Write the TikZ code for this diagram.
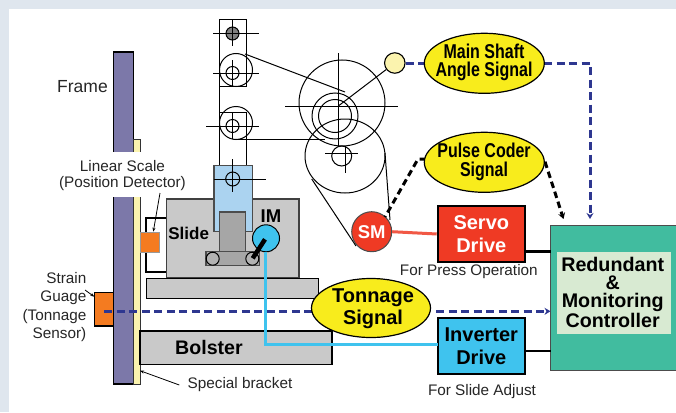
\documentclass[tikz,border=0pt]{standalone}
\usepackage{fontspec}
\setmainfont{Liberation Sans}
\newfontfamily\narrowbold[FakeStretch=0.8]{Liberation Sans Bold}
\usetikzlibrary{shapes.geometric,arrows.meta,calc}
\definecolor{bandc}{HTML}{DFE6EE}
\definecolor{framec}{HTML}{7C78A9}
\definecolor{stripc}{HTML}{FBF3AE}
\definecolor{grayc}{HTML}{C9C9C9}
\definecolor{skyc}{HTML}{ABD3F0}
\definecolor{orangec}{HTML}{F47B20}
\definecolor{navyc}{HTML}{2E3790}
\definecolor{yellowc}{HTML}{F8EC1C}
\definecolor{redc}{HTML}{EF3A24}
\definecolor{cyanc}{HTML}{3FC3EE}
\definecolor{greenc}{HTML}{41BC9F}
\definecolor{paleg}{HTML}{D8EAD2}
\tikzset{
  x=1pt,y=-1pt,
  mech/.style={draw=black,line width=1pt},
  part/.style={draw=black!75,line width=1.1pt,fill=grayc},
  sig/.style={ellipse,draw=black,line width=1.2pt,fill=yellowc,inner sep=0pt,minimum width=120pt,minimum height=60pt},
  sigtxt/.style={inner sep=0pt,align=center,font=\narrowbold\fontsize{20}{18.5}\selectfont},
  drive/.style={rectangle,draw=black,line width=2.2pt,inner sep=0pt,minimum width=87pt,minimum height=56pt,align=center,font=\bfseries\fontsize{20}{23.5}\selectfont},
  lbl/.style={inner sep=0pt,font=\fontsize{15.3}{18.5}\selectfont,text=black!85},
  navydash/.style={draw=navyc,line width=3pt,dash pattern=on 8pt off 4.5pt},
  blackdash/.style={draw=black,line width=3pt,dash pattern=on 6.5pt off 4pt},
  tip/.style={-{Stealth[length=6pt,width=7pt]}},
}
\begin{document}
\begin{tikzpicture}
\useasboundingbox (0,0) rectangle (676,412);
\fill[white] (0,0) rectangle (676,412);
\fill[bandc] (0,0) rectangle (676,9);
\fill[bandc] (0,0) rectangle (9,412);
% frame and bracket
\draw[fill=framec,draw=black,line width=1.1pt] (113.3,52) rectangle (133.3,384);
\draw[fill=stripc,draw=black!80,line width=1pt] (133.3,139.3) rectangle (140,384);
% lifting column
\draw[mech] (219.5,20) rectangle (246,86.5);
\draw[mech] (219.5,86.5) -- (219.5,166);
\draw[mech] (246,139) -- (246,166);
\draw[mech] (219.5,112.7) -- (246,112.7) -- (246,139);
\draw[mech] (232.5,112.7) -- (232.5,139);
\draw[mech,fill=black!50] (232.5,33.5) circle (6.5);
\draw[mech] (213,33.5) -- (259,33.5) (232.5,20) -- (232.5,46);
\draw[mech] (236,70) circle (16.5);
\draw[mech] (232.5,73) circle (6.5);
\draw[mech] (213,73) -- (259,73) (232.5,60) -- (232.5,86);
\draw[mech] (236,123) circle (16.5);
\draw[mech] (232.5,126) circle (6.5);
\draw[mech] (206,126) -- (259,126);
% belts and wheels
\draw[mech] (245,54) -- (345,92);
\draw[mech] (236,139.3) -- (325,139.3);
\draw[mech] (342,103) circle (43);
\draw[mech] (335,116) circle (23);
\draw[mech] (335,116) circle (16.5);
\draw[mech] (285,106) -- (398,106) (338.3,53) -- (338.3,146);
\draw[mech] (345,156) ellipse (40 and 37);
\draw[mech] (341.7,156) circle (10);
\draw[mech] (325,153) -- (358,153) (345,146) -- (345,172.7);
\draw[mech] (311.7,179) -- (356,246);
\draw[mech] (385,153) -- (390,220);
% slide
\draw[part] (166.3,199) rectangle (299,277.7);
\draw[draw=black!70,line width=1.1pt,fill=skyc] (214,165.7) rectangle (252.3,231.7);
\draw[draw=black!70,line width=1.1pt,fill=black!35] (219.3,212) rectangle (245.7,253);
\draw[draw=black!70,line width=1.1pt,fill=black!35] (206,251.7) rectangle (259.3,265.7);
\draw[mech,fill=black!30] (212.7,258.7) circle (6.5);
\draw[mech,fill=black!30] (252.3,258.7) circle (6.5);
\draw[mech] (232.7,179) circle (7);
\draw[mech] (214,179) -- (265.7,179) (232.7,159) -- (232.7,192);
\draw[part,draw=black] (146.7,278.3) rectangle (318.3,298.3);
\draw[part,draw=black] (140,331) rectangle (332,364.3);
% position detector
\draw[draw=black,line width=2pt] (166.3,218.3) -- (146,218.3) -- (146,272.3) -- (166.3,272.3);
\draw[fill=orangec,draw=black!40,line width=0.6pt] (140,232.3) rectangle (159.7,252);
% strain gauge
\draw[fill=orangec,draw=black,line width=1.1pt] (94.3,292.7) rectangle (113.3,326);
% white label patch
\node[inner sep=0pt,fill=white,minimum width=132pt,minimum height=45pt] (scalepatch) at (122.5,174.5) {};
\node[lbl] (frametxt) at (82.5,87) {\fontsize{17.5}{18}\selectfont Frame};
\node[lbl] (scaletxt) at (122.5,166) {Linear Scale};
\node[lbl] (postxt) at (122.5,184) {(Position Detector)};
\node[lbl,align=right,anchor=east] (straintxt) at (86.5,307) {Strain\\Guage\\(Tonnage\\Sensor)};
\node[lbl] (brackettxt) at (240,385) {Special bracket};
\node[lbl] (presstxt) at (468.8,272) {For Press Operation};
\node[lbl] (adjusttxt) at (482,392) {For Slide Adjust};
\node[inner sep=0pt,font=\bfseries\fontsize{17}{18}\selectfont] (slidetxt) at (188.7,233) {Slide};
\node[inner sep=0pt,font=\bfseries\fontsize{18.5}{20}\selectfont] (imtxt) at (271,216) {IM};
\node[inner sep=0pt,font=\bfseries\fontsize{19.6}{20}\selectfont] (bolstertxt) at (209,347.5) {Bolster};
% leaders
\coordinate (scaletip) at (153.3,231.7);
\coordinate (scalefrom) at (160,193);
\coordinate (straintip) at (94.3,296.7);
\coordinate (strainfrom) at (85,290);
\coordinate (brackettip) at (140,370.7);
\coordinate (bracketfrom) at (179.3,385);
\draw[line width=0.8pt,-{Stealth[length=4pt,width=3pt]}] (scalefrom) -- (scaletip);
\draw[line width=0.8pt,-{Stealth[length=4pt,width=3pt]}] (strainfrom) -- (straintip);
\draw[line width=0.8pt,-{Stealth[length=4pt,width=3pt]}] (bracketfrom) -- (brackettip);
% IM
\node[circle,draw=black,line width=1pt,fill=cyanc,minimum size=27pt,inner sep=0pt] (im) at (266,238.3) {};
\draw[line width=4.5pt] (265,239.3) -- (252.7,258.3);
% encoder
\node[circle,draw=black,line width=1.1pt,fill=stripc,minimum size=20.5pt,inner sep=0pt] (enc) at (394.8,63) {};
\draw[mech] (338.3,106) -- (enc);
% controllers
\node[rectangle,draw=black!70,line width=1pt,fill=greenc,minimum width=128pt,minimum height=145pt,inner sep=0pt] (ctrl) at (614.5,298.3) {};
\node[rectangle,fill=paleg,minimum width=113.7pt,minimum height=82pt,inner sep=0pt] (ctrlin) at (614.2,293) {};
\node[inner sep=0pt,align=center,font=\bfseries\fontsize{19.7}{18}\selectfont] (ctrltxt) at (612.7,292.5) {Redundant\\\&\\Monitoring\\Controller};
\node[drive,fill=redc,text=white] (servo) at (481.3,234) {Servo\\Drive};
\node[drive,fill=cyanc,text=black] (inv) at (481.3,346.3) {Inverter\\Drive};
\node[circle,draw=black!70,line width=1pt,fill=redc,text=white,minimum size=40pt,inner sep=0pt,font=\bfseries\fontsize{18.5}{18}\selectfont] (sm) at (371.7,231.7) {SM};
% power lines
\draw[draw=redc!85!white,line width=3pt] (sm.east) -- (servo.west);
\coordinate (imdrop) at (265.7,251.7);
\coordinate (imbend) at (265.7,344.3);
\coordinate (invin) at (437.7,344.3);
\draw[draw=cyanc,line width=3pt] (imdrop) -- (imbend) -- (invin);
\coordinate (servoout) at (525,251.7);
\coordinate (ctrlservo) at (550.7,251.7);
\coordinate (invout) at (525,351);
\coordinate (ctrlinv) at (550.7,351);
\draw[line width=2.5pt] (servoout) -- (ctrlservo);
\draw[line width=2.5pt] (invout) -- (ctrlinv);
% signals
\coordinate (gauge) at (104.3,311.3);
\coordinate (ctrlton) at (550.5,311.3);
\coordinate (shaftcorner) at (590,63);
\coordinate (ctrlshaft) at (590,219);
\coordinate (pulseL) at (426,159);
\coordinate (smtop) at (385,217);
\coordinate (pulseR) at (545,161.7);
\coordinate (ctrlpulse) at (563.5,219);
\draw[navydash] (gauge) -- (312,311.3);
\draw[navydash] (405.5,63) -- (425,63);
\draw[navydash,tip] (544,63) -- (shaftcorner) -- (ctrlshaft);
\draw[navydash,tip] (436,311.3) -- (ctrlton);
\draw[blackdash] (pulseL) -- (418,159) -- (smtop);
\draw[blackdash,tip] (pulseR) -- (ctrlpulse);
\node[sig] (shaft) at (484.3,63.3) {};
\node[sigtxt] (shafttxt) at (484,62.5) {Main Shaft\\Angle Signal};
\node[sig] (pulse) at (484.3,162.3) {};
\node[sigtxt] (pulsetxt) at (484,162) {Pulse Coder\\Signal};
\node[sig,minimum width=119pt,minimum height=59pt] (ton) at (371,308) {};
\node[inner sep=0pt,align=center,font=\bfseries\fontsize{20}{22}\selectfont] (tontxt) at (373,309) {Tonnage\\Signal};
\end{tikzpicture}
\end{document}
